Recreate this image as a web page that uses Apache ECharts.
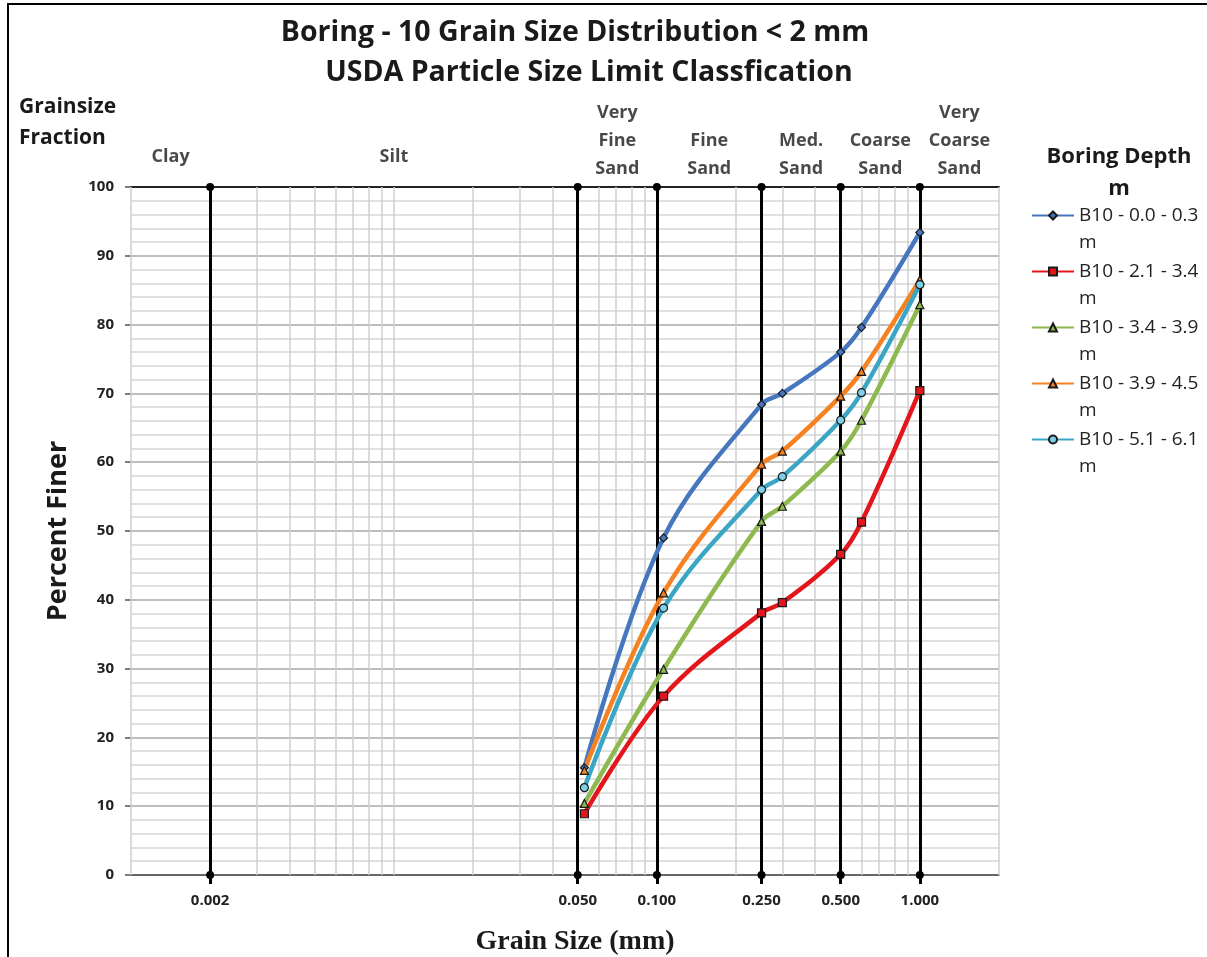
<!DOCTYPE html>
<html>
<head>
<meta charset="utf-8">
<title>Boring - 10 Grain Size Distribution</title>
<script src="https://cdn.jsdelivr.net/npm/echarts@6/dist/echarts.min.js"></script>
<style>
  html, body { margin: 0; padding: 0; background: #fff; }
  #chart { width: 1207px; height: 957px; }
</style>
</head>
<body>
<div id="chart"></div>
<script>
// Sieve openings (mm) at which each sample was measured
const sieveSizes = [0.053, 0.106, 0.25, 0.3, 0.5, 0.6, 1.0];

// Percent finer for each boring depth interval
const seriesNames = ['B10 - 0.0 - 0.3 m', 'B10 - 2.1 - 3.4 m', 'B10 - 3.4 - 3.9 m', 'B10 - 3.9 - 4.5 m', 'B10 - 5.1 - 6.1 m'];
const depth00_03 = [15.6, 49.0, 68.4, 70.0, 76.0, 79.6, 93.4];
const depth21_34 = [8.9, 26.0, 38.1, 39.6, 46.6, 51.3, 70.4];
const depth34_39 = [10.4, 29.9, 51.4, 53.6, 61.6, 66.1, 82.9];
const depth39_45 = [15.2, 41.0, 59.7, 61.6, 69.6, 73.2, 86.5];
const depth51_61 = [12.7, 38.8, 56.0, 57.9, 66.1, 70.1, 85.8];

// USDA size class limits (mm) and their labels
const classLimits = [0.002, 0.05, 0.1, 0.25, 0.5, 1.0];
const classLimitLabels = ['0.002', '0.050', '0.100', '0.250', '0.500', '1.000'];
const fractionBounds = [0.001, 0.002, 0.05, 0.1, 0.25, 0.5, 1.0, 2.0];
const fractionNames = ['Clay', 'Silt', 'Very\nFine\nSand', 'Fine\nSand', 'Med.\nSand', 'Coarse\nSand', 'Very\nCoarse\nSand'];

// Log-grid multipliers per decade
const gridDecades = [0.001, 0.01, 0.1, 1];
const gridSteps = [1, 2, 3, 4, 5, 6, 7, 8, 9];

const colors = ['#4677BE', '#E3161B', '#8DB94E', '#F68121', '#3AA5C4'];
const symbols = ['diamond', 'rect', 'triangle', 'triangle', 'circle'];
const symbolSizes = [8, 8, 8, 8, 8];
const seriesValues = [depth00_03, depth21_34, depth34_39, depth39_45, depth51_61];

const FONT = '"Open Sans", "Noto Sans", sans-serif';

const gridLineValues = [];
gridDecades.forEach(d => gridSteps.forEach(k => {
  const v = +(k * d).toPrecision(6);
  if (v <= 2) gridLineValues.push(v);
}));

const curveSeries = seriesNames.map((name, i) => ({
  name: name,
  type: 'line',
  smooth: 0.35,
  z: 10,
  data: sieveSizes.map((x, j) => [x, seriesValues[i][j]]),
  symbol: symbols[i],
  symbolSize: symbolSizes[i],
  lineStyle: { color: colors[i], width: 4.5 },
  itemStyle: {
    color: i === 4 ? '#7fd0e6' : colors[i],
    borderColor: '#1a1a1a',
    borderWidth: 1.2
  }
}));

const fractionData = fractionNames.map((n, i) => ({
  name: n,
  value: [Math.sqrt(fractionBounds[i] * fractionBounds[i + 1]), 100],
  label: i < 2 ? { offset: [0, -12] } : {}
}));

const option = {
  backgroundColor: '#fff',
  animation: false,
  color: colors,
  title: [
    {
      text: 'Boring - 10 Grain Size Distribution < 2 mm',
      left: 570, top: 13, textAlign: 'center',
      textStyle: { fontFamily: FONT, fontSize: 28.5, fontWeight: 'bold', color: '#1a1a1a' }
    },
    {
      text: 'USDA Particle Size Limit Classfication',
      left: 584, top: 53, textAlign: 'center',
      textStyle: { fontFamily: FONT, fontSize: 28.5, fontWeight: 'bold', color: '#1a1a1a' }
    },
    {
      text: 'Grainsize\nFraction',
      left: 14, top: 87,
      textStyle: { fontFamily: FONT, fontSize: 21, fontWeight: 'bold', color: '#1a1a1a', lineHeight: 31 }
    },
    {
      text: 'Boring Depth\nm',
      left: 1114, top: 136, textAlign: 'center',
      textStyle: { fontFamily: FONT, fontSize: 22, fontWeight: 'bold', color: '#1a1a1a', lineHeight: 32, align: 'center' }
    }
  ],
  legend: {
    data: seriesNames,
    orient: 'vertical',
    left: 1031,
    top: 175,
    padding: 0,
    itemGap: -25,
    itemWidth: 42,
    itemHeight: 10,
    formatter: name => '\n' + name.replace(/ m$/, '\nm'),
    textStyle: {
      fontFamily: FONT, fontSize: 19, color: '#222', lineHeight: 27
    }
  },
  grid: { left: 131, right: 208, top: 187, bottom: 82, containLabel: false, outerBoundsMode: 'none' },
  xAxis: [
    {
      type: 'log',
      logBase: 10,
      min: 0.001,
      max: 2,
      name: 'Grain Size (mm)',
      nameLocation: 'middle',
      nameGap: 53,
      nameTextStyle: {
        fontFamily: '"Liberation Serif", "DejaVu Serif", serif', fontSize: 28, fontWeight: 'bold', color: '#1a1a1a',
        padding: [0, 0, 0, 20]
      },
      axisLine: { show: true, lineStyle: { color: '#4a4a4a', width: 1.5 } },
      axisTick: { show: true, customValues: classLimits, length: 9, lineStyle: { color: '#000', width: 3 } },
      axisLabel: {
        customValues: classLimits,
        margin: 18,
        fontFamily: FONT, fontSize: 15, fontWeight: 'bold', color: '#222',
        formatter: v => classLimitLabels[classLimits.findIndex(c => Math.abs(c - v) < 1e-9)] || ''
      },
      splitLine: { show: false },
      minorTick: { show: false },
      minorSplitLine: { show: false }
    },
    {
      type: 'log',
      logBase: 10,
      min: 0.001,
      max: 2,
      position: 'top',
      axisLine: { show: true, lineStyle: { color: '#222', width: 2 } },
      axisTick: { show: false },
      axisLabel: { show: false },
      splitLine: { show: false }
    }
  ],
  yAxis: {
    type: 'value',
    min: 0,
    max: 100,
    interval: 10,
    name: 'Percent Finer',
    nameLocation: 'middle',
    nameRotate: 90,
    nameGap: 59,
    nameTextStyle: { fontFamily: FONT, fontSize: 27, fontWeight: 'bold', color: '#1a1a1a' },
    axisLine: { show: false },
    axisTick: { show: true, length: 6, lineStyle: { color: '#555', width: 1.5 } },
    axisLabel: { margin: 17, fontFamily: FONT, fontSize: 15, fontWeight: 'bold', color: '#222' },
    splitLine: { show: true, lineStyle: { color: '#a8a8a8', width: 1.5 } },
    minorTick: { show: false, splitNumber: 5 },
    minorSplitLine: { show: true, lineStyle: { color: '#d6d6d6', width: 1.5 } }
  },
  series: [
    {
      // log grid lines and class labels above the plot
      type: 'scatter',
      z: 1,
      silent: true,
      symbolSize: 0,
      data: fractionData,
      label: {
        show: true,
        position: 'top',
        distance: 4,
        formatter: p => p.name,
        fontFamily: FONT, fontSize: 18, fontWeight: 'bold', color: '#1a1a1a', lineHeight: 28, align: 'center'
      },
      markLine: {
        silent: true,
        precision: 6,
        symbol: ['none', 'none'],
        label: { show: false },
        lineStyle: { color: '#cfcfcf', width: 1.5, type: 'solid' },
        data: gridLineValues.map(v => ({ xAxis: v }))
      }
    },
    {
      // USDA class limit lines
      type: 'line',
      z: 5,
      silent: true,
      data: [],
      markLine: {
        silent: true,
        precision: 6,
        symbol: ['circle', 'circle'],
        symbolSize: 8,
        label: { show: false },
        lineStyle: { color: '#000', width: 3, type: 'solid' },
        itemStyle: { color: '#000' },
        data: classLimits.map(v => ({ xAxis: v }))
      }
    }
  ].concat(curveSeries),
  graphic: [
    {
      type: 'rect',
      shape: { x: 8, y: 4, width: 1400, height: 1200 },
      style: { fill: 'none', stroke: '#000', lineWidth: 2 },
      silent: true
    }
  ]
};

const chart = echarts.init(document.getElementById('chart'), null, { renderer: 'canvas' });
chart.setOption(option);
</script>
</body>
</html>
